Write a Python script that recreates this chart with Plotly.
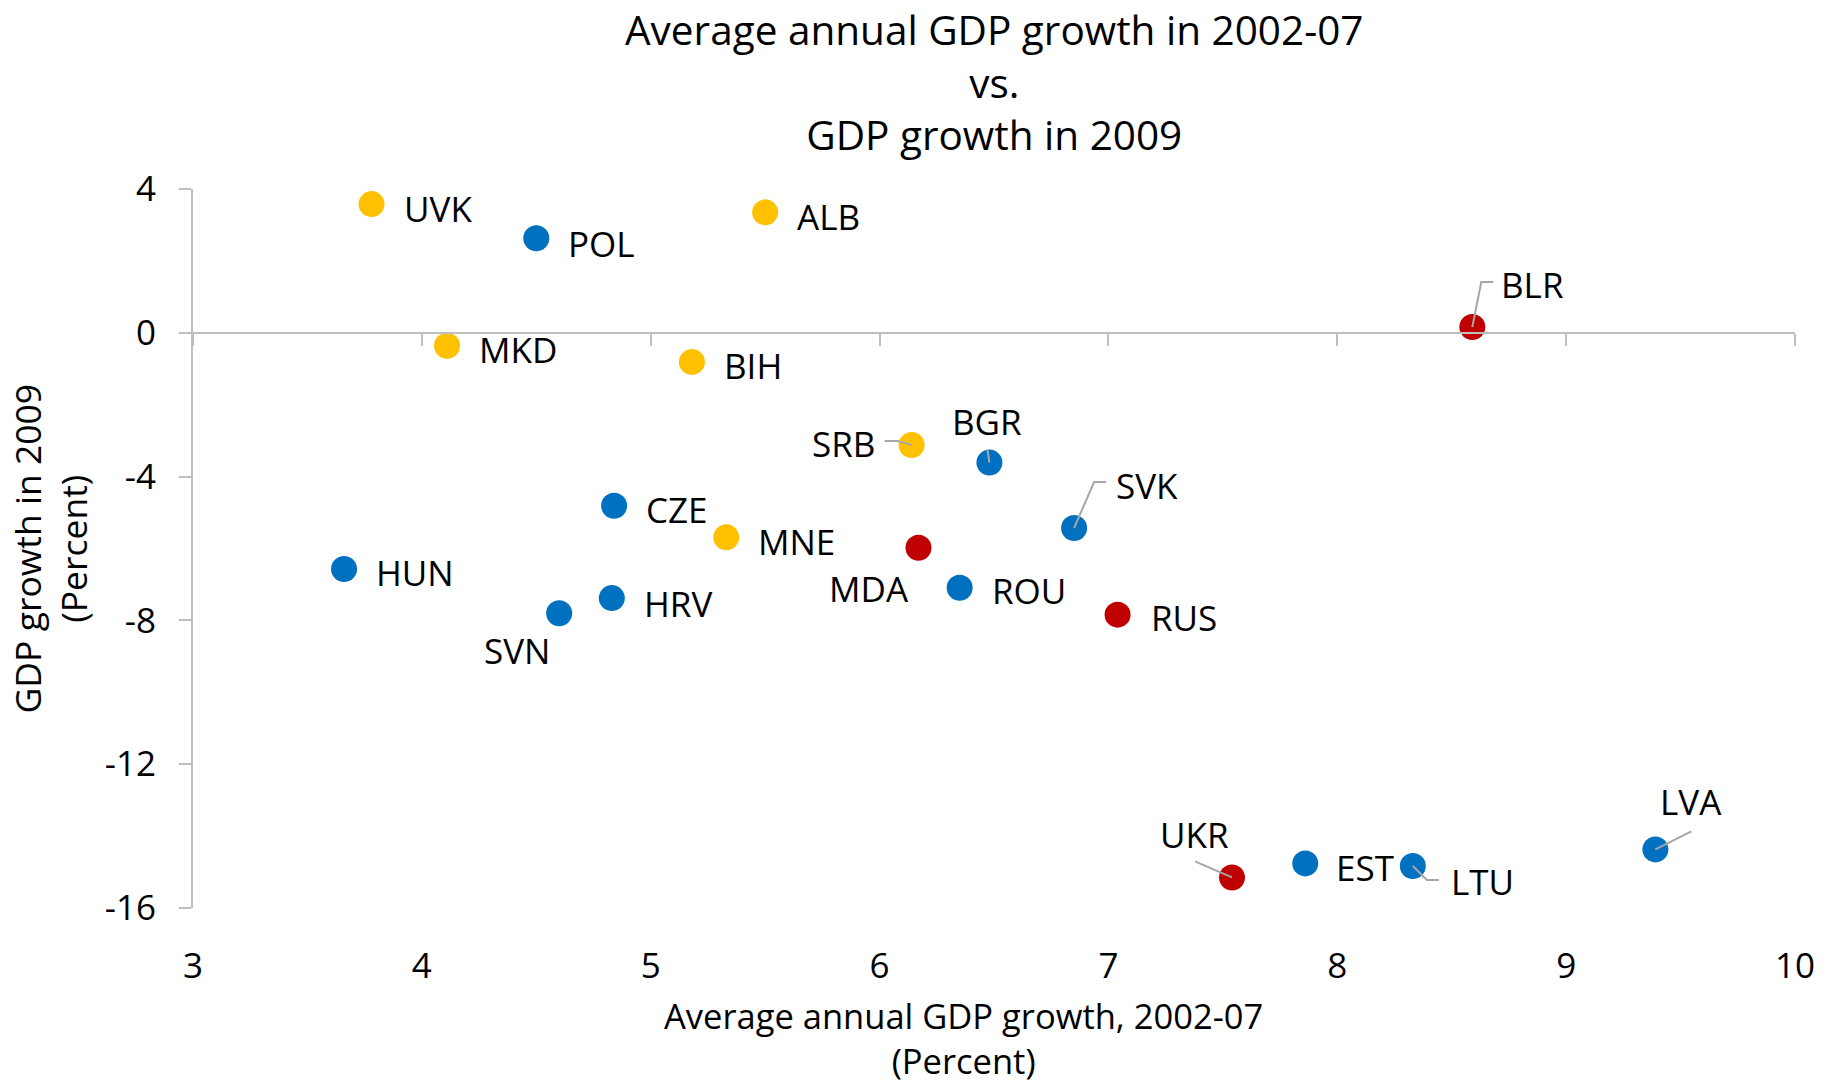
import plotly.graph_objects as go

# ---- data ----
countries = ["UVK", "POL", "ALB", "BLR", "MKD", "BIH", "SRB", "BGR", "SVK", "CZE", "MNE",
             "MDA", "HUN", "ROU", "HRV", "SVN", "RUS", "UKR", "EST", "LTU", "LVA"]
gdp_growth_0207 = [3.78, 4.50, 5.50, 8.59, 4.11, 5.18, 6.14, 6.48, 6.85, 4.84, 5.33,
                   6.17, 3.66, 6.35, 4.83, 4.60, 7.04, 7.54, 7.86, 8.33, 9.39]
gdp_growth_2009 = [3.58, 2.63, 3.35, 0.16, -0.36, -0.81, -3.12, -3.61, -5.43, -4.81, -5.69,
                   -5.98, -6.57, -7.09, -7.38, -7.80, -7.84, -15.15, -14.76, -14.83, -14.37]
groups = ["SEE", "CE", "SEE", "CIS", "SEE", "SEE", "SEE", "CE", "CE", "CE", "SEE",
          "CIS", "CE", "CE", "CE", "CE", "CIS", "CIS", "CE", "CE", "CE"]

x_ticks = [3, 4, 5, 6, 7, 8, 9, 10]
x_tick_labels = ["3", "4", "5", "6", "7", "8", "9", "10"]
y_ticks = [4, 0, -4, -8, -12, -16]
y_tick_labels = ["4", "0", "-4", "-8", "-12", "-16"]

title_text = "Average annual GDP growth in 2002-07<br>vs.<br>GDP growth in 2009"
x_title = "Average annual GDP growth, 2002-07<br>(Percent)"
y_title = "GDP growth in 2009<br>(Percent)"

# ---- styling ----
FONT = "Open Sans"
group_colors = {"CE": "#0070C0", "SEE": "#FFC000", "CIS": "#C00000"}
axis_color = "#BFBFBF"
X_RANGE = [3, 10]
Y_RANGE = [-16, 4]

# label placement: (xanchor, xshift px, yshift px)
label_pos = {
    "UVK": ("left", 30, -4), "POL": ("left", 30, -5), "ALB": ("left", 30, -4),
    "BLR": ("left", 27, 43), "MKD": ("left", 30, -4), "BIH": ("left", 30, -4),
    "SRB": ("right", -35, 1), "BGR": ("center", -2, 41), "SVK": ("left", 40, 43),
    "CZE": ("left", 30, -4), "MNE": ("left", 30, -4), "MDA": ("right", -7, -41),
    "HUN": ("left", 30, -4), "ROU": ("left", 30, -3), "HRV": ("left", 30, -5),
    "SVN": ("right", -7, -37), "RUS": ("left", 31, -3), "UKR": ("right", -1, 43),
    "EST": ("left", 29, -4), "LTU": ("left", 36, -16), "LVA": ("center", 36, 48),
}
# leader lines, pixel paths relative to point (y up)
leaders = {
    "BLR": "M0,0 L9,45 L21,45",
    "SRB": "M0,0 L-14,4 L-27,4",
    "BGR": "M0,0 L-2,13",
    "SVK": "M0,0 L20,46 L32,46",
    "UKR": "M0,0 L-37,16",
    "LTU": "M0,0 L14,-14 L26,-14",
    "LVA": "M0,0 L36,18",
}

fig = go.Figure()

fig.add_trace(go.Scatter(
    x=gdp_growth_0207, y=gdp_growth_2009, mode="markers",
    marker=dict(size=26, color=[group_colors[g] for g in groups], line=dict(width=0)),
    text=countries, hoverinfo="text", showlegend=False, cliponaxis=False,
))
# invisible trace to create the overlay axis drawn at y = 0
fig.add_trace(go.Scatter(
    x=gdp_growth_0207, y=gdp_growth_2009, mode="markers", xaxis="x2",
    marker=dict(opacity=0), hoverinfo="skip", showlegend=False,
))

annotations = []
shapes = []
for c, xv, yv in zip(countries, gdp_growth_0207, gdp_growth_2009):
    anc, xs, ys = label_pos[c]
    annotations.append(dict(
        x=xv, y=yv, xref="x", yref="y", text=c, showarrow=False,
        xanchor=anc, yanchor="middle", xshift=xs, yshift=ys,
        font=dict(family=FONT, size=35, color="#000000"),
    ))
    if c in leaders:
        shapes.append(dict(
            type="path", xref="x", yref="y", xsizemode="pixel", ysizemode="pixel",
            xanchor=xv, yanchor=yv, path=leaders[c],
            line=dict(color="#A6A6A6", width=2), layer="above",
        ))

# chart title
annotations.append(dict(
    x=0.5, y=1, xref="paper", yref="paper", text=title_text, showarrow=False,
    xanchor="center", yanchor="middle", yshift=107,
    font=dict(family=FONT, size=40.5, color="#000000"),
))
# x axis title
annotations.append(dict(
    x=0.4807, y=0, xref="paper", yref="paper", text=x_title, showarrow=False,
    xanchor="center", yanchor="middle", yshift=-130,
    font=dict(family=FONT, size=34.5, color="#000000"),
))
# y axis title
annotations.append(dict(
    x=0, y=0.5, xref="paper", yref="paper", text=y_title, showarrow=False,
    textangle=-90, xanchor="center", yanchor="middle", xshift=-144,
    font=dict(family=FONT, size=35.5, color="#000000"),
))

zero_pos = (0 - Y_RANGE[0]) / (Y_RANGE[1] - Y_RANGE[0])

fig.update_layout(
    width=1832, height=1085,
    paper_bgcolor="white", plot_bgcolor="white",
    margin=dict(l=193, r=37, t=189, b=177),
    font=dict(family=FONT, size=35, color="#000000"),
    xaxis=dict(range=X_RANGE, tickvals=x_ticks, ticktext=x_tick_labels,
               showline=False, ticks="", showgrid=False, zeroline=False,
               ticklabelstandoff=34, tickfont=dict(family=FONT, size=35, color="#000000")),
    xaxis2=dict(range=X_RANGE, overlaying="x", anchor="free", position=zero_pos,
                tickvals=x_ticks, showticklabels=False, showline=True,
                linecolor=axis_color, linewidth=2, ticks="outside", ticklen=12,
                tickcolor=axis_color, tickwidth=2, showgrid=False, zeroline=False,
                side="bottom"),
    yaxis=dict(range=Y_RANGE, tickvals=y_ticks, ticktext=y_tick_labels,
               showline=True, linecolor=axis_color, linewidth=2, ticks="outside",
               ticklen=12, tickcolor=axis_color, tickwidth=2, showgrid=False,
               zeroline=False, ticklabelstandoff=16,
               tickfont=dict(family=FONT, size=35, color="#000000")),
    annotations=annotations,
    shapes=shapes,
)

fig.write_html(
    "out.html",
    config={"displayModeBar": False},
    post_script="document.body.style.margin='0';document.body.style.overflow='hidden';",
)
